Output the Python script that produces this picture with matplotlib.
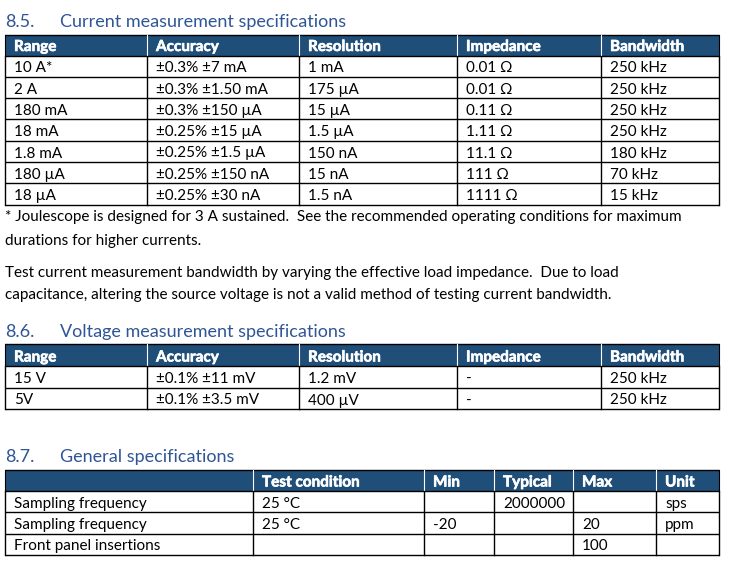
import matplotlib.pyplot as plt
import matplotlib.patheffects as pe
from matplotlib.patches import Rectangle

# section 8.5
cur_header = ["Range", "Accuracy", "Resolution", "Impedance", "Bandwidth"]
cur_range = ["10 A*", "2 A", "180 mA", "18 mA", "1.8 mA", "180 µA", "18 µA"]
cur_accuracy = ["±0.3% ±7 mA", "±0.3% ±1.50 mA", "±0.3% ±150 µA", "±0.25% ±15 µA",
                "±0.25% ±1.5 µA", "±0.25% ±150 nA", "±0.25% ±30 nA"]
cur_resolution = ["1 mA", "175 µA", "15 µA", "1.5 µA", "150 nA", "15 nA", "1.5 nA"]
cur_impedance = ["0.01 Ω", "0.01 Ω", "0.11 Ω", "1.11 Ω", "11.1 Ω", "111 Ω", "1111 Ω"]
cur_bandwidth = ["250 kHz", "250 kHz", "250 kHz", "250 kHz", "180 kHz", "70 kHz", "15 kHz"]

# section 8.6
volt_range = ["15 V", "5V"]
volt_accuracy = ["±0.1% ±11 mV", "±0.1% ±3.5 mV"]
volt_resolution = ["1.2 mV", "400 µV"]
volt_impedance = ["-", "-"]
volt_bandwidth = ["250 kHz", "250 kHz"]

# section 8.7
gen_header = ["", "Test condition", "Min", "Typical", "Max", "Unit"]
gen_param = ["Sampling frequency", "Sampling frequency", "Front panel insertions"]
gen_condition = ["25 °C", "25 °C", ""]
gen_min = ["", "-20", ""]
gen_typical = ["2000000", "", ""]
gen_max = ["", "20", "100"]
gen_unit = ["sps", "ppm", ""]

footnote = ["* Joulescope is designed for 3 A sustained.  See the recommended operating conditions for maximum",
            "durations for higher currents."]
note = ["Test current measurement bandwidth by varying the effective load impedance.  Due to load",
        "capacitance, altering the source voltage is not a valid method of testing current bandwidth."]

FONT = "Lato"
HEAD_BG = "#1f4e79"
TITLE_C = "#2f5597"
BODY_FS = 11.0
TITLE_FS = 13.0
bold_fx = [pe.withStroke(linewidth=0.45, foreground="white")]


def heading(ax, y, num, title):
    ax.text(5, y, num, fontsize=TITLE_FS, color=TITLE_C, family=FONT, va="baseline")
    ax.text(60, y, title, fontsize=TITLE_FS, color=TITLE_C, family=FONT, va="baseline")


def table(ax, cols, header, rows, top, head_h, row_h):
    left, right = cols[0], cols[-1]
    ax.add_patch(Rectangle((left, top), right - left, head_h, facecolor=HEAD_BG, edgecolor="none"))
    ys = [top, top + head_h] + [top + head_h + row_h * (i + 1) for i in range(len(rows))]
    for y in ys:
        ax.plot([left, right], [y, y], color="black", lw=1.0, solid_capstyle="butt")
    for i, x in enumerate(cols):
        c = "black" if i in (0, len(cols) - 1) else "white"
        ax.plot([x, x], [top, top + head_h], color=c, lw=0.8)
        ax.plot([x, x], [top + head_h, ys[-1]], color="black", lw=1.0)
    for j, h in enumerate(header):
        ax.text(cols[j] + 9, top + head_h - 4.5, h, color="white", fontweight="bold",
                fontsize=BODY_FS, family=FONT, va="baseline", path_effects=bold_fx)
    for i, row in enumerate(rows):
        yb = top + head_h + row_h * (i + 1) - 4.5
        for j, val in enumerate(row):
            ax.text(cols[j] + 9, yb, val, color="black", fontsize=BODY_FS, family=FONT, va="baseline")


fig = plt.figure(figsize=(7.29, 5.65), dpi=100)
ax = fig.add_axes([0, 0, 1, 1])
ax.set_xlim(0, 729)
ax.set_ylim(565, 0)
ax.axis("off")

spec_cols = [5, 147, 299, 457, 601, 719]

heading(ax, 27, "8.5.", "Current measurement specifications")
table(ax, spec_cols, cur_header,
      list(zip(cur_range, cur_accuracy, cur_resolution, cur_impedance, cur_bandwidth)),
      34.5, 21, 21.3)

for k, line in enumerate(footnote):
    ax.text(5, 221 + k * 24, line, fontsize=BODY_FS, family=FONT, va="baseline")
for k, line in enumerate(note):
    ax.text(5, 277 + k * 22, line, fontsize=BODY_FS, family=FONT, va="baseline")

heading(ax, 337, "8.6.", "Voltage measurement specifications")
table(ax, spec_cols, cur_header,
      list(zip(volt_range, volt_accuracy, volt_resolution, volt_impedance, volt_bandwidth)),
      344, 22, 21.5)

heading(ax, 462, "8.7.", "General specifications")
table(ax, [5, 253, 424, 494, 573, 656, 719], gen_header,
      list(zip(gen_param, gen_condition, gen_min, gen_typical, gen_max, gen_unit)),
      470, 21, 21.3)

fig.savefig("out.png", dpi=100)
